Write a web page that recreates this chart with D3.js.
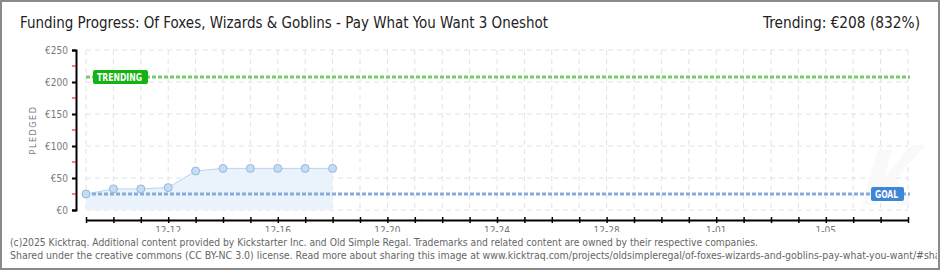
<!DOCTYPE html>
<html>
<head>
<meta charset="utf-8">
<script src="https://cdn.jsdelivr.net/npm/d3@7"></script>
<style>
  body { margin: 0; background: #fff; }
  svg text { font-family: "DejaVu Sans Condensed", "DejaVu Sans", sans-serif; }
</style>
</head>
<body>
<svg id="chart" width="940" height="270"></svg>
<script>
// data
var dates = ['2024-12-09','2024-12-10','2024-12-11','2024-12-12','2024-12-13',
             '2024-12-14','2024-12-15','2024-12-16','2024-12-17','2024-12-18'];
var pledged = [25, 33, 33, 35, 61, 65, 65, 65, 65, 65];
var goal = 25;
var trending = 208;
var yTicks = [0, 50, 100, 150, 200, 250];
var yMinor = [25, 75, 125, 175, 225];
var xLabelDates = ['2024-12-12','2024-12-16','2024-12-20','2024-12-24','2024-12-28','2025-01-01','2025-01-05'];
var startDate = '2024-12-09', endDate = '2025-01-08';

var parse = d3.timeParse('%Y-%m-%d');
var svg = d3.select('#chart');

var x = d3.scaleTime().domain([parse(startDate), parse(endDate)]).range([86, 908]);
var y = d3.scaleLinear().domain([0, 250]).range([210, 50]);

// frame
svg.append('rect').attr('x', 1).attr('y', 1).attr('width', 938).attr('height', 268)
  .attr('fill', '#fff').attr('stroke', '#8a8a8a').attr('stroke-width', 2);

// title
svg.append('text').attr('x', 20).attr('y', 28)
  .attr('font-size', 16).attr('fill', '#222')
  .attr('textLength', 528).attr('lengthAdjust', 'spacingAndGlyphs')
  .text('Funding Progress: Of Foxes, Wizards & Goblins - Pay What You Want 3 Oneshot');
svg.append('text').attr('x', 920).attr('y', 28).attr('text-anchor', 'end')
  .attr('font-size', 16).attr('fill', '#222')
  .attr('textLength', 157).attr('lengthAdjust', 'spacingAndGlyphs')
  .text('Trending:  €' + trending + ' (' + Math.round(trending / goal * 100) + '%)');

var days = d3.timeDay.range(parse(startDate), d3.timeDay.offset(parse(endDate), 1));

// grid
var grid = svg.append('g').attr('stroke', '#e2e2e2').attr('stroke-dasharray', '5,4');
grid.selectAll('line.v').data(days).enter().append('line')
  .attr('x1', function(d){ return x(d); }).attr('x2', function(d){ return x(d); })
  .attr('y1', 50).attr('y2', 210);
grid.selectAll('line.h').data(yTicks).enter().append('line')
  .attr('x1', 86).attr('x2', 908)
  .attr('y1', function(d){ return y(d); }).attr('y2', function(d){ return y(d); });

// faint watermark
svg.append('path').attr('d', 'M862,205 L878,150 L892,150 L884,178 L912,145 L925,145 L896,178 L912,205 L898,205 L884,185 L877,205 Z')
  .attr('fill', '#f9f9f9');

// area + line
var pts = dates.map(function(d, i){ return {date: parse(d), v: pledged[i]}; });
svg.append('path').datum(pts)
  .attr('d', d3.area().x(function(d){ return x(d.date); }).y0(y(0)).y1(function(d){ return y(d.v); }))
  .attr('fill', '#eaf3fc');
svg.append('path').datum(pts)
  .attr('d', d3.line().x(function(d){ return x(d.date); }).y(function(d){ return y(d.v); }))
  .attr('fill', 'none').attr('stroke', '#b9d5f2').attr('stroke-width', 1);

// goal and trending lines
svg.append('line').attr('x1', 86).attr('x2', 910).attr('y1', y(goal)).attr('y2', y(goal))
  .attr('stroke', '#86acd9').attr('stroke-width', 3).attr('stroke-dasharray', '4,2');
svg.append('line').attr('x1', 86).attr('x2', 910).attr('y1', y(trending)).attr('y2', y(trending))
  .attr('stroke', '#77cc6a').attr('stroke-width', 3).attr('stroke-dasharray', '4,2');

// points
svg.selectAll('circle.pt').data(pts).enter().append('circle')
  .attr('cx', function(d){ return x(d.date); }).attr('cy', function(d){ return y(d.v); })
  .attr('r', 4).attr('fill', '#c5dcf5').attr('stroke', '#96b6dc').attr('stroke-width', 1);

// labels
function tag(px, py, w, txt, col) {
  svg.append('rect').attr('x', px).attr('y', py).attr('width', w).attr('height', 14)
    .attr('rx', 2).attr('fill', col);
  svg.append('text').attr('x', px + 4).attr('y', py + 11).attr('font-size', 11)
    .attr('font-weight', 'bold').attr('fill', '#fff')
    .attr('textLength', w - 10).attr('lengthAdjust', 'spacingAndGlyphs').text(txt);
}
tag(93, y(trending) - 7, 55, 'TRENDING', '#12b312');
tag(871, y(goal) - 7, 33, 'GOAL', '#3f86d6');

// y axis
var yAxis = svg.append('g').attr('transform', 'translate(76,0)')
  .call(d3.axisLeft(y).tickValues(yTicks).tickSize(4).tickFormat(function(d){ return '€' + d; }));
yAxis.select('.domain').attr('stroke', '#000').attr('stroke-width', 2);
yAxis.selectAll('.tick line').attr('stroke', '#000').attr('stroke-width', 2);
yAxis.selectAll('.tick text').attr('fill', '#777').attr('font-size', 10).attr('x', -8);
svg.append('g').selectAll('line').data(yMinor).enter().append('line')
  .attr('x1', 72).attr('x2', 76)
  .attr('y1', function(d){ return y(d); }).attr('y2', function(d){ return y(d); })
  .attr('stroke', '#e00').attr('stroke-width', 1);

svg.append('text').attr('transform', 'translate(36,130) rotate(-90)')
  .attr('text-anchor', 'middle').attr('font-size', 9).attr('fill', '#777')
  .attr('letter-spacing', 1.5).text('PLEDGED');

// x axis
var xAxis = svg.append('g').attr('transform', 'translate(0,220)')
  .call(d3.axisBottom(x).ticks(d3.timeDay.every(1)).tickSize(3).tickSizeOuter(0).tickFormat(''));
xAxis.select('.domain').attr('stroke', '#000').attr('stroke-width', 2);
xAxis.selectAll('.tick line').attr('y1', -3).attr('y2', 3).attr('stroke', '#000').attr('stroke-width', 1.5);

svg.append('clipPath').attr('id', 'xclip').append('rect')
  .attr('x', 0).attr('y', 222).attr('width', 940).attr('height', 10);
var fmt = d3.timeFormat('%-m-%d');
svg.append('g').attr('clip-path', 'url(#xclip)').selectAll('text').data(xLabelDates).enter().append('text')
  .attr('x', function(d){ return x(parse(d)); }).attr('y', 234)
  .attr('text-anchor', 'middle').attr('font-size', 10).attr('fill', '#777')
  .text(function(d){ return fmt(parse(d)); });

// footer
svg.append('text').attr('x', 10).attr('y', 246).attr('font-size', 10).attr('fill', '#666')
  .attr('textLength', 748).attr('lengthAdjust', 'spacingAndGlyphs')
  .text('(c)2025 Kicktraq. Additional content provided by Kickstarter Inc. and Old Simple Regal. Trademarks and related content are owned by their respective companies.');
svg.append('svg').attr('x', 0).attr('y', 0).attr('width', 937).attr('height', 270)
  .append('text').attr('x', 10).attr('y', 259).attr('font-size', 10).attr('fill', '#666')
  .attr('textLength', 940).attr('lengthAdjust', 'spacingAndGlyphs')
  .text('Shared under the creative commons (CC BY-NC 3.0) license. Read more about sharing this image at www.kicktraq.com/projects/oldsimpleregal/of-foxes-wizards-and-goblins-pay-what-you-want/#share');
</script>
</body>
</html>
